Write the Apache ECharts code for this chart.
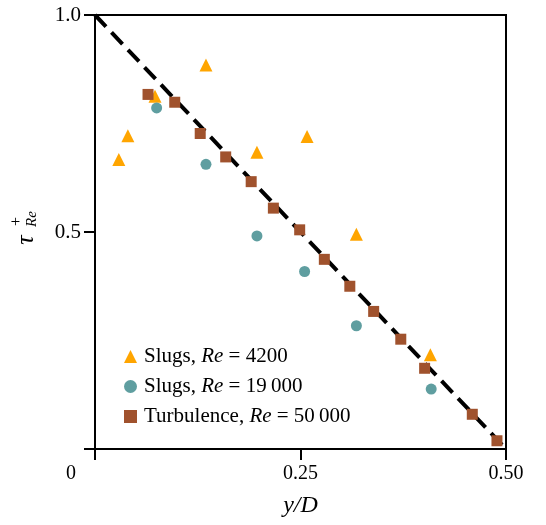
<!DOCTYPE html>
<html><head><meta charset="utf-8">
<script src="https://cdn.jsdelivr.net/npm/echarts@6/dist/echarts.min.js"></script>
<style>html,body{margin:0;padding:0;background:#fff}#c{width:546px;height:525px}</style>
</head><body><div id="c"></div>
<script>
// Data
const slug4200X = [0.029, 0.040, 0.073, 0.135, 0.197, 0.258, 0.318, 0.408];
const slug4200Y = [0.667, 0.722, 0.813, 0.885, 0.684, 0.720, 0.495, 0.217];
const slug19000X = [0.075, 0.135, 0.197, 0.255, 0.318, 0.409];
const slug19000Y = [0.786, 0.656, 0.491, 0.409, 0.284, 0.138];
const turbX = [0.0645, 0.097, 0.128, 0.159, 0.190, 0.217, 0.249, 0.279, 0.310, 0.339, 0.372, 0.401, 0.459, 0.489];
const turbY = [0.817, 0.799, 0.727, 0.673, 0.616, 0.555, 0.505, 0.437, 0.375, 0.317, 0.253, 0.186, 0.080, 0.019];
const lineX = [0, 0.5];
const lineY = [1, 0];
const xTicks = [0, 0.25, 0.5];
const xTickLabels = ['0', '0.25', '0.50'];
const yTicks = [0, 0.5, 1.0];
const yTickLabels = ['', '0.5', '1.0'];
const seriesNames = ['Slugs, Re = 4200', 'Slugs, Re = 19 000', 'Turbulence, Re = 50 000'];
const legendParts = [['Slugs, ', 'Re', ' = 4200'], ['Slugs, ', 'Re', ' = 19\u2009000'], ['Turbulence, ', 'Re', ' = 50\u2009000']];

const zip = (a, b) => a.map((v, i) => [v, b[i]]);
const serif = 'Liberation Serif';
const chart = echarts.init(document.getElementById('c'));
chart.setOption({
  animation: false,
  grid: {left: 95, right: 40, top: 15, bottom: 76, show: true, borderColor: '#000', borderWidth: 2},
  xAxis: {
    type: 'value', min: 0, max: 0.5, interval: 0.25,
    axisLine: {lineStyle: {color: '#000', width: 2}},
    axisTick: {length: 11, lineStyle: {color: '#000', width: 2}},
    splitLine: {show: false},
    axisLabel: {
      margin: 15, color: '#000', fontFamily: serif, fontSize: 20,
      formatter: v => { const i = xTicks.findIndex(t => Math.abs(t - v) < 1e-9); const s = i >= 0 ? xTickLabels[i] : ''; return v === 0 ? '{o|' + s + '}' : s; },
      rich: {o: {fontFamily: serif, fontSize: 20, color: '#000', padding: [0, 48, 0, 0]}}
    },
    name: 'y/D', nameLocation: 'middle', nameGap: 45,
    nameTextStyle: {fontFamily: serif, fontStyle: 'italic', fontSize: 24, color: '#000'}
  },
  yAxis: {
    type: 'value', min: 0, max: 1, interval: 0.5,
    axisLine: {lineStyle: {color: '#000', width: 2}},
    axisTick: {length: 11, lineStyle: {color: '#000', width: 2}},
    splitLine: {show: false},
    axisLabel: {
      margin: 14, color: '#000', fontFamily: serif, fontSize: 21,
      formatter: v => { const i = yTicks.findIndex(t => Math.abs(t - v) < 1e-9); return i >= 0 ? yTickLabels[i] : ''; }
    }
  },
  legend: {
    orient: 'vertical', left: 119, top: 341, itemGap: 9, itemWidth: 13, itemHeight: 13,
    data: [{name: seriesNames[0], icon: 'triangle'}, {name: seriesNames[1], icon: 'circle'}, {name: seriesNames[2], icon: 'rect'}],
    formatter: n => { const p = legendParts[seriesNames.indexOf(n)]; return p[0] + '{i|' + p[1] + '}' + p[2]; },
    textStyle: {fontFamily: serif, fontSize: 21, lineHeight: 20, color: '#000', padding: [0, 0, 0, 2],
      rich: {i: {fontFamily: serif, fontSize: 21, lineHeight: 20, fontStyle: 'italic', color: '#000'}}}
  },
  graphic: [{
    type: 'group', x: 26, y: 232, rotation: Math.PI / 2,
    children: [
      {type: 'text', x: -8, y: 0, style: {text: '\u03c4', font: 'italic 26px "Liberation Serif"', fill: '#000', align: 'center', verticalAlign: 'middle'}},
      {type: 'text', x: 6, y: -9, style: {text: '+', font: '16px "Liberation Serif"', fill: '#000', align: 'left', verticalAlign: 'middle'}},
      {type: 'text', x: 5, y: 6, style: {text: 'Re', font: 'italic 15px "Liberation Serif"', fill: '#000', align: 'left', verticalAlign: 'middle'}}
    ]
  }],
  series: [
    {name: 'dash', type: 'line', data: zip(lineX, lineY), symbol: 'none', z: 1,
     lineStyle: {color: '#000', width: 4, type: [16, 8]}, silent: true},
    {name: seriesNames[0], type: 'scatter', symbol: 'triangle', symbolSize: 13, data: zip(slug4200X, slug4200Y), itemStyle: {color: '#FFA500', opacity: 1}, z: 3},
    {name: seriesNames[1], type: 'scatter', symbol: 'circle', symbolSize: 11, data: zip(slug19000X, slug19000Y), itemStyle: {color: '#5F9EA0', opacity: 1}, z: 3},
    {name: seriesNames[2], type: 'scatter', symbol: 'rect', symbolSize: 11, data: zip(turbX, turbY), itemStyle: {color: '#A0522D', opacity: 1}, z: 3}
  ]
});
</script></body></html>
